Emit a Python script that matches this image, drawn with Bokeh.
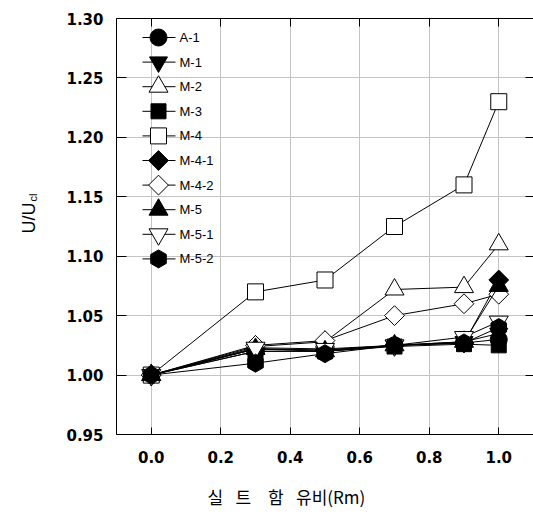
import math

from bokeh.core.properties import value
from bokeh.embed import file_html
from bokeh.models import (ColumnDataSource, FixedTicker, Label, LinearAxis,
                          NumeralTickFormatter, Range1d)
from bokeh.plotting import figure
from bokeh.resources import INLINE

# silt content ratio (Rm)
rm = [0.0, 0.3, 0.5, 0.7, 0.9, 1.0]

# normalised velocity U/Ucl for each sample
a_1 = [1.000, 1.020, 1.020, 1.025, 1.027, 1.030]
m_1 = [1.000, 1.022, 1.021, 1.025, 1.028, 1.035]
m_2 = [1.000, 1.024, 1.028, 1.072, 1.074, 1.110]
m_3 = [1.000, 1.020, 1.020, 1.024, 1.026, 1.025]
m_4 = [1.000, 1.070, 1.080, 1.125, 1.160, 1.230]
m_4_1 = [1.000, 1.022, 1.021, 1.025, 1.027, 1.080]
m_4_2 = [1.000, 1.025, 1.029, 1.050, 1.060, 1.068]
m_5 = [1.000, 1.022, 1.020, 1.025, 1.028, 1.075]
m_5_1 = [1.000, 1.023, 1.022, 1.025, 1.032, 1.045]
m_5_2 = [1.000, 1.010, 1.018, 1.025, 1.027, 1.040]

series_names = ["A-1", "M-1", "M-2", "M-3", "M-4", "M-4-1", "M-4-2", "M-5", "M-5-1", "M-5-2"]
series_values = [a_1, m_1, m_2, m_3, m_4, m_4_1, m_4_2, m_5, m_5_1, m_5_2]

x_ticks = [0.0, 0.2, 0.4, 0.6, 0.8, 1.0]
y_ticks = [0.95, 1.00, 1.05, 1.10, 1.15, 1.20, 1.25, 1.30]

# marker style per series: (marker, filled, size, angle)
Q = math.pi / 4
styles = [
    ("circle", True, 17, 0.0),
    ("inverted_triangle", True, 18, 0.0),
    ("triangle", False, 19, 0.0),
    ("square", True, 15, 0.0),
    ("square", False, 16, 0.0),
    ("square", True, 14, Q),     # diamond
    ("square", False, 14, Q),    # diamond
    ("triangle", True, 19, 0.0),
    ("inverted_triangle", False, 19, 0.0),
    ("hex", True, 18, 2 * Q),
]

FONT = "Liberation Sans"
TICK_FONT = "DejaVu Sans"
GRID = "#c4c4c4"
FRAME_W, FRAME_H = 417, 416

p = figure(frame_width=FRAME_W, frame_height=FRAME_H, output_backend="svg",
           toolbar_location=None,
           x_range=Range1d(-0.1, 1.1), y_range=Range1d(0.95, 1.30),
           min_border_left=116, min_border_right=0, min_border_top=18,
           min_border_bottom=88, outline_line_color=None)
p.background_fill_color = "white"
p.border_fill_color = "white"

# pixel coordinate system of the frame (origin top-left), used for the key
p.extra_x_ranges = {"px": Range1d(0, FRAME_W)}
p.extra_y_ranges = {"py": Range1d(FRAME_H, 0)}

# axes: ticks pointing inward, labels outside
p.xaxis.ticker = FixedTicker(ticks=x_ticks)
p.yaxis.ticker = FixedTicker(ticks=y_ticks)
p.xaxis.formatter = NumeralTickFormatter(format="0.0")
p.yaxis.formatter = NumeralTickFormatter(format="0.00")
for ax in (p.xaxis[0], p.yaxis[0]):
    ax.major_tick_out = 0
    ax.minor_tick_line_color = None
    ax.axis_line_color = "black"
    ax.major_tick_line_color = "black"
    ax.major_label_text_font = TICK_FONT
    ax.major_label_text_font_size = "15px"
    ax.major_label_text_font_style = "bold"
    ax.major_label_text_color = "black"
p.xaxis.major_tick_in = 7
p.yaxis.major_tick_in = 10
p.xaxis.major_label_standoff = 16
p.yaxis.major_label_standoff = 13

blank_x = {t: "" for t in x_ticks}
blank_y = {t: "" for t in y_ticks}
top_ax = LinearAxis(ticker=FixedTicker(ticks=x_ticks), major_tick_in=8, major_tick_out=0,
                    minor_tick_line_color=None, major_label_overrides=blank_x,
                    major_label_standoff=0, major_label_text_font_size="8px")
right_ax = LinearAxis(ticker=FixedTicker(ticks=y_ticks), major_tick_in=8, major_tick_out=0,
                      minor_tick_line_color=None, major_label_overrides=blank_y,
                      major_label_standoff=0, major_label_text_font_size="8px",
                      axis_line_color=None)
p.add_layout(top_ax, "above")
p.add_layout(right_ax, "right")

p.xgrid.ticker = FixedTicker(ticks=x_ticks)
p.ygrid.ticker = FixedTicker(ticks=y_ticks)
p.grid.grid_line_color = GRID
p.grid.grid_line_width = 1

for vals, (marker, filled, size, ang) in zip(series_values, styles):
    p.line(rm, vals, line_color="black", line_width=1)
    p.scatter(rm, vals, marker=marker, size=size, angle=ang, line_color="black",
              line_width=1, fill_color="black" if filled else "white")

# key in the upper-left corner (frame pixels: row pitch, line stub, marker, text)
ROW0, PITCH = 19, 24.6
STUB0, STUB1, MARK_X, TEXT_X = 26, 59, 42, 63
rows = [ROW0 + PITCH * i for i in range(len(series_names))]
key = ColumnDataSource(dict(
    y=rows,
    x0=[STUB0] * len(rows), x1=[STUB1] * len(rows),
    xm=[MARK_X] * len(rows), xt=[TEXT_X] * len(rows),
    name=series_names,
    marker=[s[0] for s in styles],
    size=[s[2] for s in styles],
    angle=[s[3] for s in styles],
    fill=["black" if s[1] else "white" for s in styles],
))
p.segment(x0="x0", y0="y", x1="x1", y1="y", source=key, line_color="black",
          line_width=1, x_range_name="px", y_range_name="py")
p.scatter(x="xm", y="y", marker="marker", size="size", angle="angle", fill_color="fill",
          line_color="black", line_width=1, source=key,
          x_range_name="px", y_range_name="py")
p.text(x="xt", y="y", text="name", source=key, text_font=value(FONT),
       text_font_size=value("13px"), text_baseline="middle", text_color="black",
       x_range_name="px", y_range_name="py")

# axis titles, placed in the side panels
p.add_layout(Label(x=-19, y=233, x_units="screen", y_units="screen", angle=math.pi / 2,
                   text="cl", text_font=FONT, text_font_size="11px", text_color="black",
                   text_baseline="alphabetic"), "left")
p.add_layout(Label(x=-3, y=201, x_units="screen", y_units="screen", angle=math.pi / 2,
                   text="U/U", text_font=FONT, text_font_size="18px", text_color="black",
                   text_baseline="alphabetic"), "left")
EN, NB, EM = "\u2002", "\u00a0", "\u2003"
x_title = "실" + EN + NB + "트" + EM + "함" + EN + NB + "유비(Rm)"
p.add_layout(Label(x=91, y=-6, x_units="screen", y_units="screen", text=x_title,
                   text_font="Noto Sans CJK KR", text_font_size="17px",
                   text_color="black", text_baseline="middle"), "below")

open("out.html", "w").write(file_html(p, INLINE))
